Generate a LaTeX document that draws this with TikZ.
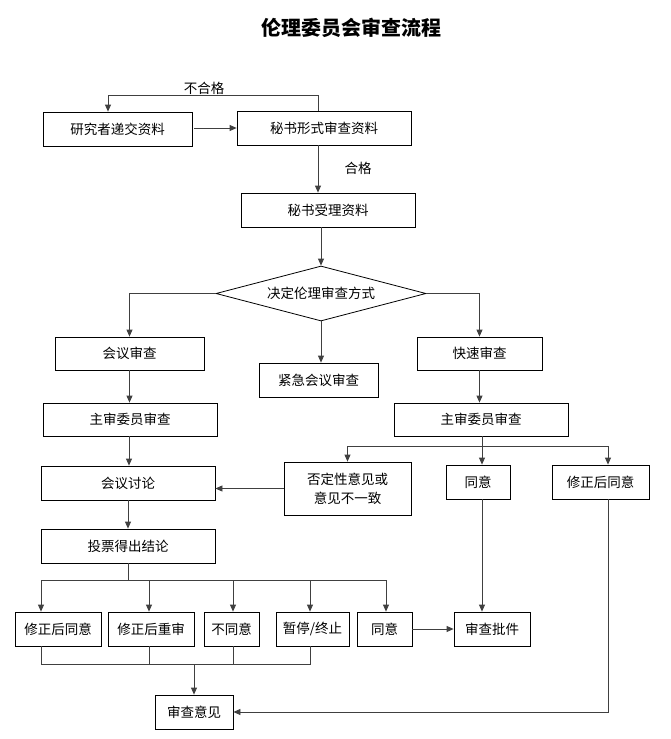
\documentclass[tikz,border=0pt]{standalone}
\usepackage{fontspec}
\setmainfont{Noto Sans CJK SC}
\usetikzlibrary{arrows.meta,shapes.geometric}
\tikzset{
  box/.style={draw=black, line width=0.8pt, rectangle, inner sep=0pt, align=center, font=\fontsize{13.5}{19}\selectfont},
  dia/.style={draw=black, line width=0.8pt, diamond, aspect=3.8, inner sep=0pt, font=\fontsize{13.5}{16}\selectfont},
  arr/.style={draw=black!75, line width=0.8pt, -{Triangle[length=7pt,width=6pt]}},
  ln/.style={draw=black!75, line width=0.8pt},
  lbl/.style={font=\fontsize{13.5}{16}\selectfont, inner sep=0pt}
}
\begin{document}
\begin{tikzpicture}[x=1pt,y=-1pt]
\useasboundingbox (0,0) rectangle (671,739);
\node[font=\fontsize{20}{24}\selectfont\bfseries] (title) at (351,28) {伦理委员会审查流程};

\node[box, minimum width=149, minimum height=34] (a) at (117.5,129) {研究者递交资料};
\node[box, minimum width=174, minimum height=34] (b) at (324,128) {秘书形式审查资料};
\node[box, minimum width=174, minimum height=34] (c) at (328,210) {秘书受理资料};
\node[dia, minimum width=210, minimum height=55] (d) at (321,293.5) {决定伦理审查方式};
\node[box, minimum width=149, minimum height=33] (e) at (129.5,353.5) {会议审查};
\node[box, minimum width=119, minimum height=34] (f) at (318.5,380) {紧急会议审查};
\node[box, minimum width=125, minimum height=33] (g) at (479.5,353.5) {快速审查};
\node[box, minimum width=174, minimum height=33] (h) at (130,419.5) {主审委员审查};
\node[box, minimum width=174, minimum height=33] (i) at (481,419.5) {主审委员审查};
\node[box, minimum width=174, minimum height=34] (j) at (128,483) {会议讨论};
\node[box, minimum width=127, minimum height=53] (k) at (347.5,488.5) {否定性意见或\\意见不一致};
\node[box, minimum width=64, minimum height=34] (l) at (478,482) {同意};
\node[box, minimum width=97, minimum height=34] (m) at (600.5,482) {修正后同意};
\node[box, minimum width=174, minimum height=34] (n) at (128,546) {投票得出结论};
\node[box, minimum width=86, minimum height=34] (o1) at (58,629) {修正后同意};
\node[box, minimum width=86, minimum height=34] (o2) at (151,629) {修正后重审};
\node[box, minimum width=55, minimum height=34] (o3) at (231.5,629) {不同意};
\node[box, minimum width=73, minimum height=34] (o4) at (312.5,629) {暂停/终止};
\node[box, minimum width=55, minimum height=34] (o5) at (384.5,629) {同意};
\node[box, minimum width=76, minimum height=34] (p) at (492,629) {审查批件};
\node[box, minimum width=78, minimum height=34] (q) at (194,712) {审查意见};

\node[lbl] (bhg) at (204,88) {不合格};
\node[lbl] (hg) at (358,168) {合格};

% top loop
\draw[arr] ([xshift=-6pt]b.north) -- ++(0,-15) -| ([xshift=-9.5pt]a.north);
\draw[arr] ([xshift=2pt]a.east |- b.west) -- (b.west);
\draw[arr] ([xshift=-6pt]b.south) -- ([xshift=-6pt]b.south |- c.north);
\draw[arr] ([xshift=-7pt]c.south) -- ([xshift=-7pt]c.south |- d.north);
\draw[arr] (d.west) -| (e.north);
\draw[arr] (d.south) -- (d.south |- f.north);
\draw[arr] (d.east) -| (g.north);
\draw[arr] (e.south) -- (e.south |- h.north);
\draw[arr] (g.south) -- (g.south |- i.north);
\draw[arr] ([xshift=-1pt]h.south) -- ([xshift=-1pt]h.south |- j.north);

% right branch
\coordinate (jr) at (482,446);
\draw[ln] (i.south -| jr) -- (jr);
\draw[arr] (jr) -| (k.north);
\draw[arr] (jr) -| ([xshift=7.5pt]m.north);
\draw[arr] (jr) -- (jr |- l.north);
\draw[arr] (k.west) -- (k.west -| j.east);
\draw[arr] (jr |- l.south) -- (jr |- p.north);
\draw[arr] ([xshift=7.5pt]m.south) |- (q.east);

% left branch
\draw[arr] (j.south) -- (j.south |- n.north);
\coordinate (jb) at (128,580);
\draw[ln] (n.south) -- (jb);
\draw[arr] (jb) -| ([xshift=-17pt]o1.north);
\draw[arr] (jb) -| ([xshift=-2pt]o2.north);
\draw[arr] (jb) -| ([xshift=1.5pt]o3.north);
\draw[arr] (jb) -| ([xshift=-2.5pt]o4.north);
\draw[arr] (jb) -| ([xshift=1.5pt]o5.north);
\draw[arr] (o5.east) -- (p.west);

% bottom join
\coordinate (jq) at (194,664);
\draw[ln] ([xshift=-17pt]o1.south) |- ([xshift=-2.5pt]o4.south |- jq) -- ([xshift=-2.5pt]o4.south);
\draw[ln] ([xshift=-2pt]o2.south) -- ([xshift=-2pt]o2.south |- jq);
\draw[ln] ([xshift=1.5pt]o3.south) -- ([xshift=1.5pt]o3.south |- jq);
\draw[arr] (jq) -- (q.north);
\end{tikzpicture}
\end{document}
